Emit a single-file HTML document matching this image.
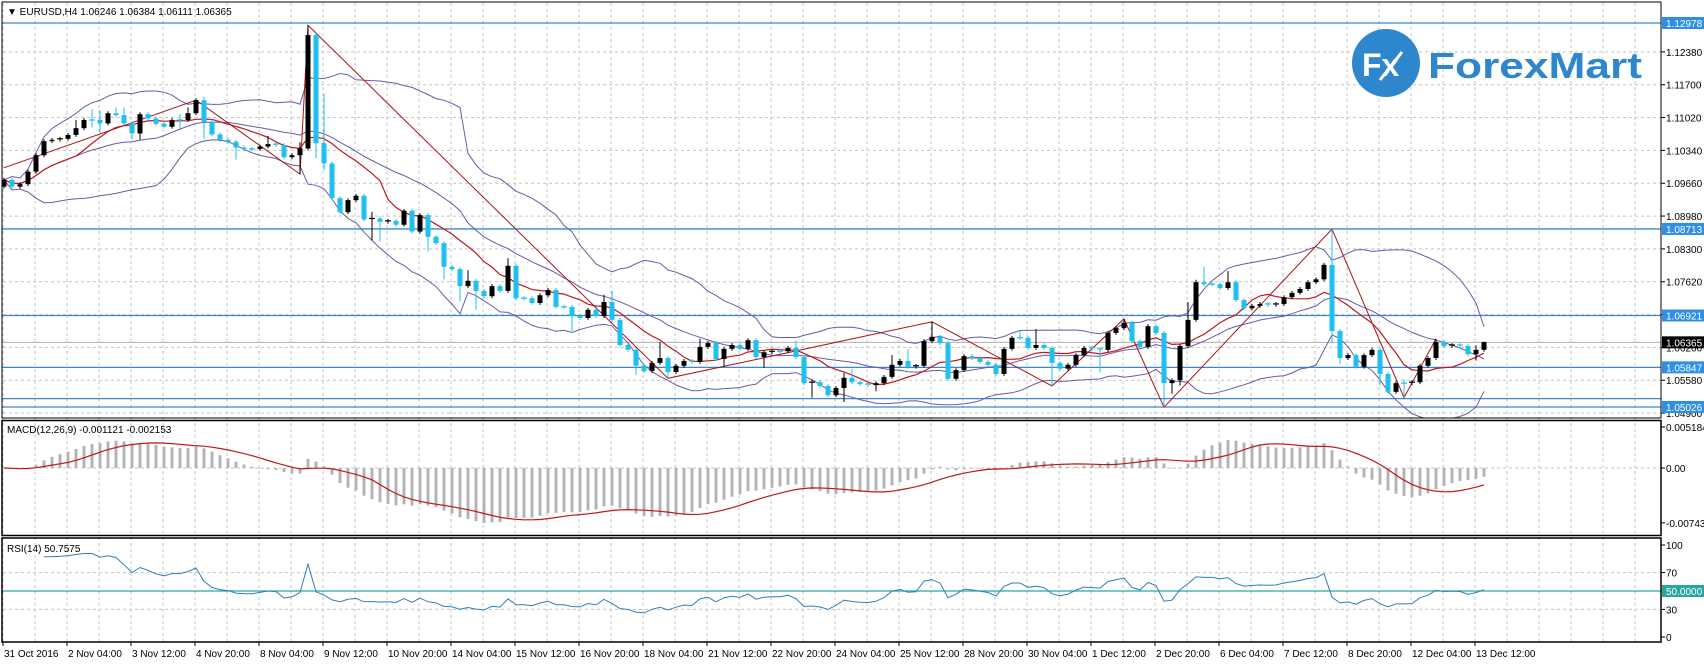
<!DOCTYPE html>
<html><head><meta charset="utf-8"><style>
html,body{margin:0;padding:0;background:#fff;}
svg{display:block;font-family:"Liberation Sans",sans-serif;}
</style></head><body>
<svg id="chart" width="1704" height="664" viewBox="0 0 1704 664" xmlns="http://www.w3.org/2000/svg">
<defs>
<clipPath id="cMain"><rect x="2" y="2" width="1659" height="416"/></clipPath>
<clipPath id="cMacd"><rect x="2" y="421" width="1659" height="114"/></clipPath>
<clipPath id="cRsi"><rect x="2" y="539" width="1659" height="102"/></clipPath>
</defs>
<g id="grid"></g>
<g id="logo">
<circle cx="1386" cy="63" r="34" fill="#2e86cc"/>
<text x="1362" y="76" font-size="32" font-weight="bold" fill="#fff">Fx</text>
<path d="M1380,80 L1402,52" stroke="#fff" stroke-width="3"/>
<text x="1428" y="78" font-size="36" font-weight="bold" fill="#2e86cc" textLength="214" lengthAdjust="spacingAndGlyphs">ForexMart</text>
</g>
<g id="levels"></g>
<g id="mainMarks" clip-path="url(#cMain)"></g>
<g id="macdMarks" clip-path="url(#cMacd)"></g>
<g id="rsiMarks" clip-path="url(#cRsi)"></g>
<g id="frame">
<rect x="2" y="2" width="1659" height="416" fill="none" stroke="#000" stroke-width="1"/>
<rect x="2" y="420.5" width="1659" height="115" fill="none" stroke="#000" stroke-width="1.5"/>
<rect x="2" y="538" width="1659" height="104" fill="none" stroke="#000" stroke-width="1.5"/>
</g>
<g id="axes"></g>
<text x="7" y="15" font-size="10" fill="#000">▼ EURUSD,H4  1.06246 1.06384 1.06111 1.06365</text>
<text x="7" y="433" font-size="10" fill="#000">MACD(12,26,9) -0.001121 -0.002153</text>
<text x="7" y="552" font-size="10" fill="#000">RSI(14) 50.7575</text>
</svg>
<script>
const closes=[1.0973,1.0959,1.0964,1.0990,1.1024,1.1053,1.1056,1.1058,1.1066,1.1080,
1.1097,1.1097,1.1090,1.1111,1.1107,1.1090,1.1069,1.1109,1.1100,1.1089,
1.1083,1.1097,1.1097,1.1111,1.1138,1.1093,1.1067,1.1056,1.1052,1.1040,
1.1037,1.1037,1.1042,1.1047,1.1045,1.1020,1.1024,1.1038,1.1273,1.1049,
1.1007,1.0935,1.0906,1.0931,1.0940,1.0891,1.0893,1.0886,1.0888,1.0880,
1.0909,1.0866,1.0900,1.0855,1.0842,1.0793,1.0788,1.0753,1.0764,1.0743,
1.0732,1.0753,1.0743,1.0795,1.0728,1.0728,1.0718,1.0734,1.0745,1.0710,
1.0710,1.0691,1.0687,1.0704,1.0691,1.0720,1.0683,1.0631,1.0621,1.0588,
1.0577,1.0594,1.0604,1.0575,1.0588,1.0598,1.0596,1.0627,1.0635,1.0602,
1.0623,1.0631,1.0623,1.0641,1.0606,1.0616,1.0618,1.0618,1.0625,1.0606,
1.0552,1.0554,1.0546,1.0527,1.0542,1.0563,1.0554,1.0550,1.0548,1.0552,
1.0565,1.0590,1.0598,1.0586,1.0588,1.0639,1.0648,1.0635,1.0561,1.0579,
1.0608,1.0604,1.0596,1.0590,1.0571,1.0623,1.0646,1.0646,1.0625,1.0631,
1.0625,1.0594,1.0582,1.0590,1.0610,1.0625,1.0623,1.0621,1.0656,1.0666,
1.0677,1.0639,1.0627,1.0670,1.0656,1.0552,1.0558,1.0629,1.0683,1.0761,
1.0757,1.0757,1.0749,1.0761,1.0724,1.0707,1.0712,1.0716,1.0714,1.0716,
1.0730,1.0739,1.0747,1.0761,1.0767,1.0797,1.0660,1.0604,1.0610,1.0586,
1.0610,1.0621,1.0571,1.0534,1.0552,1.0552,1.0554,1.0588,1.0604,1.0637,
1.0629,1.0631,1.0629,1.0612,1.0621,1.0637];
const firstOpen=1.0959;
const extremeIdx=[4,9,11,12,14,15,16,17,22,23,25,29,33,37,38,39,40,46,47,53,55,57,58,59,63,71,75,76,79,82,83,85,87,90,95,99,101,105,106,109,111,113,116,127,129,131,137,140,145,146,147,148,149,150,153,165,166,167,172,175,179,184,185];
const extremeHigh=[1.1028,1.1097,1.1119,1.1117,1.1123,1.1123,null,null,1.1109,1.1123,1.1145,null,1.1064,1.1051,1.1293,null,1.1151,1.0907,null,null,null,null,1.0786,null,1.0811,null,1.0735,1.0743,null,1.0637,null,null,1.0644,null,null,1.0640,1.0560,1.0573,1.0581,null,1.0610,1.0622,1.0679,1.0660,1.0664,null,null,1.0685,null,null,null,1.0720,1.0766,1.0793,1.0784,1.0801,1.0871,null,null,1.0560,1.0644,1.0630,1.0638];
const extremeLow=[null,null,1.1082,1.1070,null,null,1.1056,1.1056,1.1079,null,1.1058,1.1015,null,1.0985,null,1.1018,1.0993,1.0848,1.0845,1.0825,1.0767,1.0721,null,1.0704,null,1.0660,null,null,1.0569,null,1.0562,1.0584,null,1.0586,1.0584,null,1.0522,1.0513,null,1.0535,null,null,null,null,null,1.0546,1.0574,null,1.0502,1.0530,1.0547,null,null,null,null,null,1.0635,1.0592,1.0548,1.0522,null,1.0599,null];
const zigIdx=[0,24,37,38,83,116,131,140,145,166,175,179];
const zigPrice=[1.0998,1.1138,1.0985,1.1293,1.0562,1.0679,1.0546,1.0685,1.0502,1.0871,1.0522,1.0644];
const levelPrices=[1.12978,1.08713,1.06921,1.05847,1.05026];
const extraLevel=[1.0520];
const priceTicks=[1.12380,1.11700,1.11020,1.10340,1.09660,1.08980,1.08300,1.07620,1.06940,1.06260,1.05580,1.04900];
const timeLabels=["31 Oct 2016","2 Nov 04:00","3 Nov 12:00","4 Nov 20:00","8 Nov 04:00","9 Nov 12:00","10 Nov 20:00","14 Nov 04:00","15 Nov 12:00","16 Nov 20:00","18 Nov 04:00","21 Nov 12:00","22 Nov 20:00","24 Nov 04:00","25 Nov 12:00","28 Nov 20:00","30 Nov 04:00","1 Dec 12:00","2 Dec 20:00","6 Dec 04:00","7 Dec 12:00","8 Dec 20:00","12 Dec 04:00","13 Dec 12:00"];
const lastPrice=1.06365;

const NS="http://www.w3.org/2000/svg";
function mk(parent,tag,attrs){const e=document.createElementNS(NS,tag);for(const k in attrs)e.setAttribute(k,attrs[k]);parent.appendChild(e);return e;}
const xB=i=>4+8*i;
const yP=p=>23+(1.12978-p)*4829;
const yM=v=>468-v*7909;
const yR=v=>637-v*0.92;

const grid=document.getElementById('grid');
for(let x=3;x<1661;x+=32){
  const l=mk(grid,'line',{x1:x,x2:x,y1:3,y2:641,stroke:'#c4c4c4','stroke-dasharray':'3,3'});
  
  
}
priceTicks.forEach(p=>{
  const l=mk(grid,'line',{x1:3,x2:1660,y1:yP(p),y2:yP(p),stroke:'#c4c4c4','stroke-dasharray':'3,3'});
  
  
});
[0].forEach(v=>{mk(grid,'line',{x1:3,x2:1660,y1:yM(v),y2:yM(v),stroke:'#c4c4c4','stroke-dasharray':'3,3'});});
[70,30].forEach(v=>{mk(grid,'line',{x1:3,x2:1660,y1:yR(v),y2:yR(v),stroke:'#c4c4c4','stroke-dasharray':'3,3'});});

const lv=document.getElementById('levels');
levelPrices.concat(extraLevel).forEach(p=>{
  const l=mk(lv,'line',{x1:2,x2:1661,y1:yP(p),y2:yP(p),stroke:'#3a86d0','stroke-width':1.3});
  
  
});
mk(lv,'line',{x1:2,x2:1661,y1:yP(lastPrice),y2:yP(lastPrice),stroke:'#b0b0b0'});
mk(lv,'line',{x1:2,x2:1661,y1:yR(50),y2:yR(50),stroke:'#2aa6a0','stroke-width':1.2});

const main=document.getElementById('mainMarks');
const opens=closes.map((c,i)=>i===0?firstOpen:closes[i-1]);
const highs=closes.map((c,i)=>Math.max(c,opens[i])+0.0004);
const lows=closes.map((c,i)=>Math.min(c,opens[i])-0.0004);
extremeIdx.forEach((idx,k)=>{if(extremeHigh[k]!==null)highs[idx]=extremeHigh[k];if(extremeLow[k]!==null)lows[idx]=extremeLow[k];});

function sma(arr,n){return arr.map((v,i)=>{const s=Math.max(0,i-n+1);let t=0;for(let j=s;j<=i;j++)t+=arr[j];return t/(i-s+1);});}
const ma10=sma(closes,10);
const bbMid=sma(closes,20);
const bbDev=closes.map((v,i)=>{const s=Math.max(0,i-19);let t=0;for(let j=s;j<=i;j++)t+=(closes[j]-bbMid[i])**2;return Math.sqrt(t/(i-s+1));});
function pathOf(vals,xf,yf,start){let d='';vals.forEach((v,i)=>{if(i<(start||0))return;d+=(d?'L':'M')+xf(i).toFixed(1)+','+yf(v).toFixed(1);});return d;}
const bbU=bbMid.map((m,i)=>m+2*bbDev[i]), bbL=bbMid.map((m,i)=>m-2*bbDev[i]);
[[bbU,'bb-upper'],[bbMid,'bb-middle'],[bbL,'bb-lower']].forEach(([a,n])=>{
  const p=mk(main,'path',{d:pathOf(a,xB,yP,0),fill:'none',stroke:'#6a5aa8','stroke-width':1});
  
  
});
const maP=mk(main,'path',{d:pathOf(ma10,xB,yP,0),fill:'none',stroke:'#c01818','stroke-width':1.2});


let zd='';zigIdx.forEach((ix,k)=>{zd+=(k?'L':'M')+xB(ix)+','+yP(zigPrice[k]).toFixed(1);});
const zz=mk(main,'path',{d:zd,fill:'none',stroke:'#b01010','stroke-width':1});



closes.forEach((c,i)=>{
  const o=opens[i],bull=c>o,col=bull?'#000':'#1ec0f0';
  const x=xB(i);
  const g=mk(main,'g',{});
  
  
  mk(g,'line',{x1:x,x2:x,y1:yP(highs[i]),y2:yP(lows[i]),stroke:col,'stroke-width':1});
  const top=yP(Math.max(o,c)),bot=yP(Math.min(o,c));
  if(bot-top<1)mk(g,'line',{x1:x-3,x2:x+3,y1:top,y2:top,stroke:col,'stroke-width':1.2});
  else mk(g,'rect',{x:x-2.5,y:top,width:5,height:bot-top,fill:col});
});

function ema(arr,n){const k=2/(n+1);const out=[];arr.forEach((v,i)=>out.push(i?v*k+out[i-1]*(1-k):v));return out;}
const e12=ema(closes,12),e26=ema(closes,26);
const macd=e12.map((v,i)=>v-e26[i]);
const signal=sma(macd,9);
const mg=document.getElementById('macdMarks');
macd.forEach((v,i)=>{
  const y0=yM(0),y1=yM(v);
  const r=mk(mg,'rect',{x:xB(i)-1.5,y:Math.min(y0,y1),width:3,height:Math.max(0.5,Math.abs(y1-y0)),fill:'#b4b4b4'});
  
  
});
const sg=mk(mg,'path',{d:pathOf(signal,xB,yM,0),fill:'none',stroke:'#c01818','stroke-width':1.2});



const rsi=[];let ag=0,al=0;
closes.forEach((c,i)=>{
  if(i===0){rsi.push(50);return;}
  const d=c-closes[i-1],g=Math.max(d,0),l=Math.max(-d,0);
  if(i<=14){ag=(ag*(i-1)+g)/i;al=(al*(i-1)+l)/i;}else{ag=(ag*13+g)/14;al=(al*13+l)/14;}
  rsi.push(al===0?100:100-100/(1+ag/al));
});
const rg=document.getElementById('rsiMarks');
const rl=mk(rg,'path',{d:pathOf(rsi,xB,yR,5),fill:'none',stroke:'#2f7fbf','stroke-width':1});



const ax=document.getElementById('axes');
function tickLabel(y,txt,name){
  mk(ax,'line',{x1:1661,x2:1665,y1:y,y2:y,stroke:'#000'});
  const t=mk(ax,'text',{x:1666,y:y+4,'font-size':10,fill:'#000'});t.textContent=txt;
  
  
}
priceTicks.forEach(p=>tickLabel(yP(p),p.toFixed(5),'price-tick'));
tickLabel(yM(0.005184),'0.005184','macd-tick');tickLabel(yM(0),'0.00','macd-tick');tickLabel(yM(-0.007438)-4,'-0.007438','macd-tick');
[100,70,30,0].forEach(v=>tickLabel(yR(v),String(v),'rsi-tick'));
function boxLabel(y,txt,bg,name){
  const g=mk(ax,'g',{});
  
  
  mk(g,'rect',{x:1662,y:y-6,width:42,height:12,fill:bg});
  const t=mk(g,'text',{x:1666,y:y+4,'font-size':10,fill:'#fff'});t.textContent=txt;
}
levelPrices.forEach(p=>boxLabel(yP(p),p.toFixed(5),'#2f8ee5','level-label'));
boxLabel(yP(lastPrice),lastPrice.toFixed(5),'#000','current-price-label');
boxLabel(yR(50),'50.0000','#2aa6a0','rsi-level-label');
timeLabels.forEach((s,k)=>{
  const x=3+64*k;
  mk(ax,'line',{x1:x,x2:x,y1:642,y2:646,stroke:'#000'});
  const t=mk(ax,'text',{x:x+1,y:657,'font-size':10,fill:'#000'});t.textContent=s;
  
  
});
</script>
</body></html>
